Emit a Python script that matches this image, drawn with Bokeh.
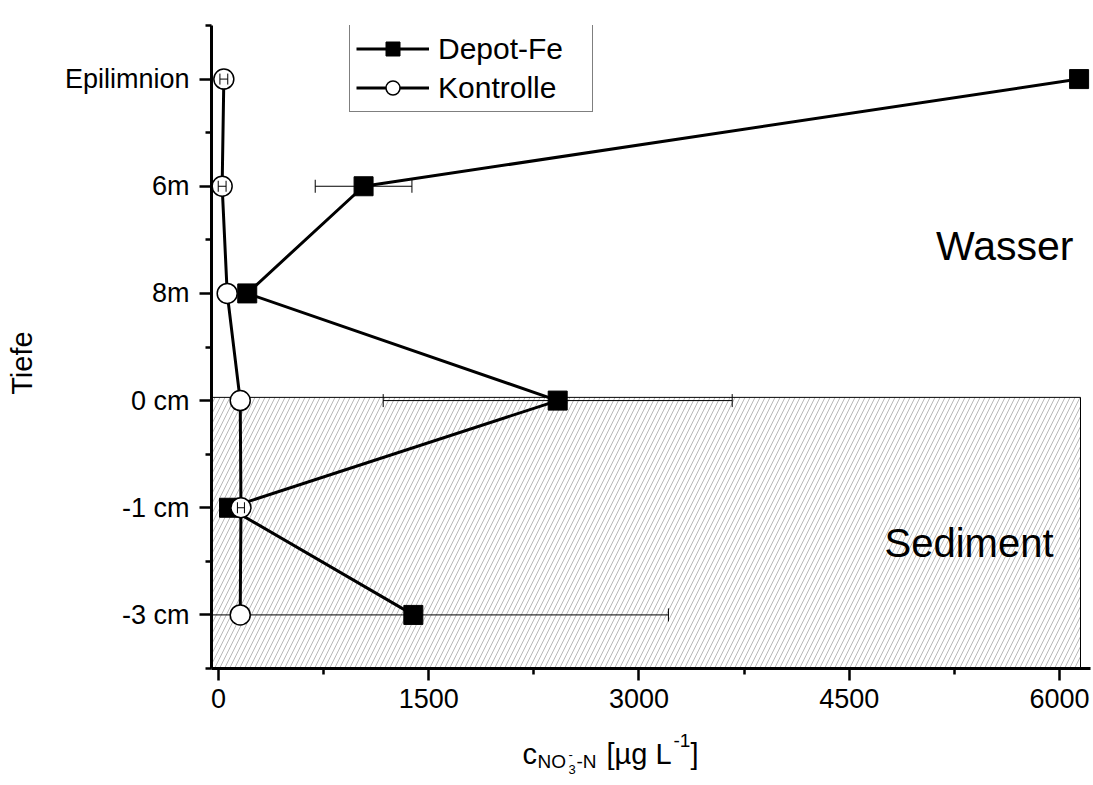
import math
from bokeh.plotting import figure
from bokeh.layouts import column
from bokeh.models import Range1d, FixedTicker, Legend, LegendItem, Label
from bokeh.embed import file_html
from bokeh.resources import INLINE

# ---------------- data ----------------
depths = ["Epilimnion", "6m", "8m", "0 cm", "-1 cm", "-3 cm"]
depot_fe = [6140, 1035, 205, 2420, 75, 1390]
depot_fe_err = [0, 345, 0, 1245, 0, 1820]
kontrolle = [38, 26, 62, 155, 160, 155]
kontrolle_err = [28, 28, 0, 0, 25, 0]
x_ticks = [0, 1500, 3000, 4500, 6000]
x_minor = [750, 2250, 3750, 5250]

FONT = "Liberation Sans"
X0, XEND = -50, 6150          # axis span of the drawing area (sediment box)
Y0, Y1 = -0.5, 5.5
W, H = 1093, 721
BL, BR, BT, BB = 211, 3, 25, 53
FW = W - BL - BR
FH = H - BT - BB
PX_PER_UNIT = 869 / 6200.0
X1 = XEND + (1090 - 1080) / PX_PER_UNIT  # small extra room so end marker is not clipped

ypos = [len(depths) - 1 - i for i in range(len(depths))]

def px2x(px):
    return X0 + (px - BL) * (X1 - X0) / FW

def py2y(py):
    return Y1 - (py - BT) * (Y1 - Y0) / FH

p = figure(width=W, height=H, output_backend="svg", toolbar_location=None,
           x_range=Range1d(X0, X1), y_range=Range1d(Y0, Y1),
           min_border_left=BL, min_border_right=BR, min_border_top=BT, min_border_bottom=BB)
p.outline_line_color = None
p.xgrid.visible = False
p.ygrid.visible = False
p.background_fill_color = "white"
p.border_fill_color = "white"

# sediment hatched area
p.quad(left=X0, right=XEND, bottom=Y0, top=2.03, fill_color="white",
       line_color="black", line_width=1, hatch_pattern="/", hatch_color="#9a9a9a",
       hatch_scale=10, hatch_weight=0.7)

# lines
l1 = p.line(depot_fe, ypos, line_color="black", line_width=3)
l2 = p.line(kontrolle, ypos, line_color="black", line_width=3)

def err(vals, errs):
    lo, hi, yy = [], [], []
    for v, e, y in zip(vals, errs, ypos):
        if e > 0:
            lo.append(v - e); hi.append(v + e); yy.append(y)
    return lo, hi, yy

lo, hi, yy = err(depot_fe, depot_fe_err)
p.segment(x0=lo, y0=yy, x1=hi, y1=yy, line_color="black", line_width=1)
p.scatter(lo + hi, yy + yy, marker="dash", angle=math.pi / 2, size=13,
          line_color="black", line_width=1)

s1 = p.scatter(depot_fe, ypos, marker="square", size=19, fill_color="black",
               line_color="black", line_width=1)
s2 = p.scatter(kontrolle, ypos, marker="circle", size=20, fill_color="white",
               line_color="black", line_width=1.5)

lo, hi, yy = err(kontrolle, kontrolle_err)
p.segment(x0=lo, y0=yy, x1=hi, y1=yy, line_color="black", line_width=1)
p.scatter(lo + hi, yy + yy, marker="dash", angle=math.pi / 2, size=11,
          line_color="black", line_width=1)

# axes
for ax in (p.xaxis[0], p.yaxis[0]):
    ax.axis_line_width = 3
    ax.axis_line_color = "black"
    ax.major_tick_line_width = 2.5
    ax.minor_tick_line_width = 2.5
    ax.major_tick_in = 0
    ax.major_tick_out = 12
    ax.minor_tick_in = 0
    ax.minor_tick_out = 6
    ax.major_label_text_font = FONT
    ax.major_label_text_font_size = "27px"
    ax.major_label_text_color = "black"

p.xaxis.ticker = FixedTicker(ticks=x_ticks, minor_ticks=x_minor)
p.xaxis.major_label_standoff = 8
p.yaxis.ticker = FixedTicker(ticks=ypos, minor_ticks=[y + 0.5 for y in range(-1, len(depths))])
p.yaxis.major_label_overrides = {y: d for y, d in zip(ypos, depths)}
p.yaxis.major_label_standoff = 10
p.yaxis.axis_label = "Tiefe" + "\u00a0" * 4
p.yaxis.axis_label_text_font = FONT
p.yaxis.axis_label_text_font_size = "29px"
p.yaxis.axis_label_text_font_style = "normal"
p.yaxis.axis_label_text_color = "black"
p.yaxis.axis_label_standoff = 24

# legend (top edge at frame top)
legend = Legend(items=[LegendItem(label="Depot-Fe", renderers=[l1, s1]),
                       LegendItem(label="Kontrolle", renderers=[l2, s2])],
                location=(138, FH - 87), glyph_width=73, glyph_height=35, spacing=4,
                padding=6, margin=0, label_standoff=9, label_width=148,
                label_text_font=FONT, label_text_font_size="30px",
                label_text_color="black",
                border_line_color="black", border_line_width=1.5,
                background_fill_color="white", background_fill_alpha=1)
p.add_layout(legend)

def lab(fig, text, x, y, size, align="left"):
    fig.add_layout(Label(x=x, y=y, text=text, text_font=FONT,
                         text_font_size=f"{size}px", text_align=align,
                         text_baseline="alphabetic", text_color="black"))

lab(p, "Wasser", px2x(1073), py2y(245), 41, align="right")
lab(p, "Sediment", px2x(1053), py2y(542), 40, align="right")

# x-axis title strip: c_{NO3^- -N} [µg L^-1]
# (frame of this strip is aligned with the main frame; its x units are page pixels)
H2 = 60
q = figure(width=W, height=H2, output_backend="svg", toolbar_location=None,
           x_range=Range1d(BL, W - BR), y_range=Range1d(H2, 0),
           min_border_left=BL, min_border_right=BR, min_border_top=0, min_border_bottom=0)
q.axis.visible = False
q.grid.visible = False
q.outline_line_color = None
q.background_fill_color = "white"
q.border_fill_color = "white"

x0 = 522
yb = 753 - H
lab(q, "c", x0, yb, 29)
lab(q, "NO", x0 + 15, yb + 8, 19)
lab(q, "3", x0 + 46, yb + 16, 13)
lab(q, "-", x0 + 46, yb + 1, 13)
lab(q, "-N", x0 + 54, yb + 8, 19)
lab(q, "[µg L", x0 + 84, yb, 29)
lab(q, "-1", x0 + 151, yb - 13, 19)
lab(q, "]", x0 + 168, yb, 29)

open("out.html", "w").write(file_html(column(p, q, spacing=0), INLINE))
